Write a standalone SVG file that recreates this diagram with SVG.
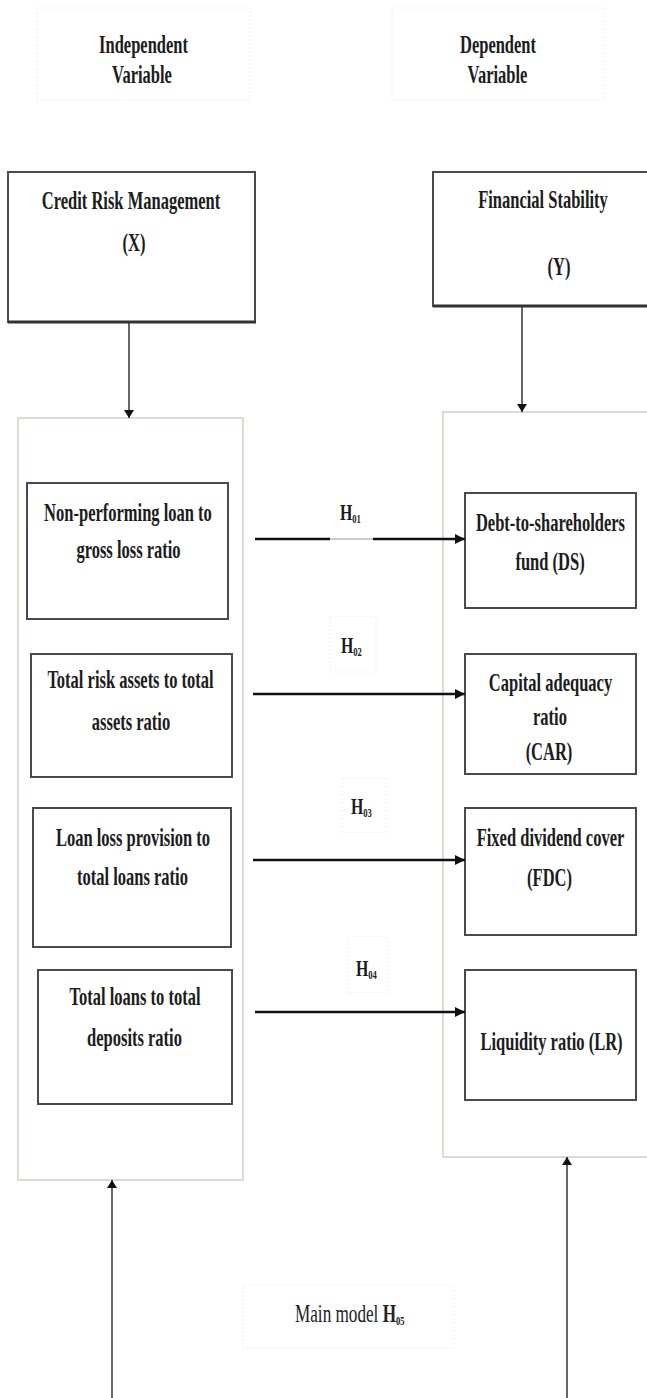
<svg xmlns="http://www.w3.org/2000/svg" width="647" height="1398" viewBox="0 0 647 1398">
<defs>
<style>
.t{font-family:"Liberation Serif","Times New Roman",serif;font-weight:bold;font-size:26px;fill:#1c1c1c;text-anchor:middle}
.hd{font-family:"Liberation Serif","Times New Roman",serif;font-weight:bold;font-size:25px;fill:#1c1c1c;text-anchor:middle}
.lab{font-family:"Liberation Serif","Times New Roman",serif;font-weight:bold;font-size:24px;fill:#1c1c1c}
.mm{font-family:"Liberation Serif","Times New Roman",serif;font-weight:normal;font-size:26px;fill:#222}
.sub{font-size:13px;font-weight:bold}
.box{fill:#fff;stroke:#4a4a4a;stroke-width:2}
.outer{fill:#fff;stroke:#cdd5bf;stroke-width:1.5}
.faint{fill:#fff;stroke:#eeeeee;stroke-width:1;stroke-dasharray:2 2}
.conn{stroke:#111;stroke-width:2.5;fill:none}
.thin{stroke:#333;stroke-width:1.5;fill:none}
</style>
<marker id="ah" markerUnits="userSpaceOnUse" markerWidth="10" markerHeight="10" refX="10" refY="5" orient="auto">
<path d="M0,0 L10,5 L0,10 z" fill="#111"/>
</marker>
<marker id="ahs" markerUnits="userSpaceOnUse" markerWidth="8" markerHeight="10" refX="8" refY="5" orient="auto">
<path d="M0,0 L8,5 L0,10 z" fill="#111"/>
</marker>
</defs>
<rect width="647" height="1398" fill="#fff"/>

<g id="header-independent">
<rect class="faint" x="37" y="8" width="213" height="92"/>
<text class="hd" transform="translate(143.5,53) scale(0.66,1)">Independent</text>
<text class="hd" transform="translate(142,83) scale(0.66,1)">Variable</text>
</g>
<g id="header-dependent">
<rect class="faint" x="392" y="8" width="212" height="92"/>
<text class="hd" transform="translate(498,53) scale(0.66,1)">Dependent</text>
<text class="hd" transform="translate(497.5,83) scale(0.66,1)">Variable</text>
</g>

<g id="outer-left">
<rect class="outer" x="18" y="418" width="225" height="762"/>
</g>
<g id="outer-right">
<rect class="outer" x="443" y="412" width="212" height="745"/>
</g>

<g id="node-x">
<rect class="box" x="8" y="172" width="247" height="150"/>
<line x1="8" y1="322" x2="256" y2="322" stroke="#333" stroke-width="3"/>
<text class="t" transform="translate(131,209) scale(0.635,1)">Credit Risk Management</text>
<text class="t" transform="translate(134,251) scale(0.635,1)">(X)</text>
</g>
<g id="node-y">
<rect class="box" x="433" y="172" width="220" height="134"/>
<line x1="433" y1="306" x2="647" y2="306" stroke="#333" stroke-width="3"/>
<text class="t" transform="translate(543,208) scale(0.635,1)">Financial Stability</text>
<text class="t" transform="translate(559,275) scale(0.635,1)">(Y)</text>
</g>

<g id="node-npl">
<rect class="box" x="27" y="483" width="201" height="136"/>
<text class="t" transform="translate(128,521) scale(0.635,1)">Non-performing loan to</text>
<text class="t" transform="translate(128.5,558) scale(0.635,1)">gross loss ratio</text>
</g>
<g id="node-tra">
<rect class="box" x="31" y="654" width="201" height="123"/>
<text class="t" transform="translate(130.5,688) scale(0.635,1)">Total risk assets to total</text>
<text class="t" transform="translate(131,730) scale(0.635,1)">assets ratio</text>
</g>
<g id="node-llp">
<rect class="box" x="33" y="808" width="198" height="139"/>
<text class="t" transform="translate(133,846) scale(0.635,1)">Loan loss provision to</text>
<text class="t" transform="translate(132.5,885) scale(0.635,1)">total loans ratio</text>
</g>
<g id="node-tld">
<rect class="box" x="38" y="970" width="194" height="134"/>
<text class="t" transform="translate(135,1005) scale(0.635,1)">Total loans to total</text>
<text class="t" transform="translate(134.5,1046) scale(0.635,1)">deposits ratio</text>
</g>

<g id="node-ds">
<rect class="box" x="465" y="493" width="171" height="115"/>
<text class="t" transform="translate(550.5,531) scale(0.635,1)">Debt-to-shareholders</text>
<text class="t" transform="translate(550,570) scale(0.635,1)">fund (DS)</text>
</g>
<g id="node-car">
<rect class="box" x="465" y="654" width="171" height="120"/>
<text class="t" transform="translate(550.5,691) scale(0.635,1)">Capital adequacy</text>
<text class="t" transform="translate(550,725) scale(0.635,1)">ratio</text>
<text class="t" transform="translate(549,760) scale(0.635,1)">(CAR)</text>
</g>
<g id="node-fdc">
<rect class="box" x="465" y="808" width="171" height="127"/>
<text class="t" transform="translate(550.5,846) scale(0.635,1)">Fixed dividend cover</text>
<text class="t" transform="translate(549.5,886) scale(0.635,1)">(FDC)</text>
</g>
<g id="node-lr">
<rect class="box" x="465" y="970" width="171" height="130"/>
<text class="t" transform="translate(551.5,1050) scale(0.635,1)">Liquidity ratio (LR)</text>
</g>

<g id="connectors">
<line class="thin" x1="129" y1="322" x2="129" y2="418" marker-end="url(#ahs)"/>
<line class="thin" x1="522" y1="306" x2="522" y2="412" marker-end="url(#ahs)"/>
<line class="conn" x1="255" y1="539" x2="330" y2="539"/>
<line x1="330" y1="539" x2="373" y2="539" stroke="#999" stroke-width="1"/>
<line class="conn" x1="373" y1="539" x2="465" y2="539" marker-end="url(#ah)"/>
<line class="conn" x1="253" y1="694" x2="465" y2="694" marker-end="url(#ah)"/>
<line class="conn" x1="253" y1="860" x2="465" y2="860" marker-end="url(#ah)"/>
<line class="conn" x1="255" y1="1012" x2="465" y2="1012" marker-end="url(#ah)"/>
<line class="thin" x1="112" y1="1398" x2="112" y2="1180" marker-end="url(#ahs)"/>
<line class="thin" x1="567" y1="1398" x2="567" y2="1157" marker-end="url(#ahs)"/>
</g>

<g id="label-h01">
<text class="lab" transform="translate(340,520) scale(0.66,1)">H<tspan class="sub" dy="3">01</tspan></text>
</g>
<g id="label-h02">
<rect class="faint" x="330" y="617" width="46" height="55"/>
<text class="lab" transform="translate(341,653) scale(0.66,1)">H<tspan class="sub" dy="3">02</tspan></text>
</g>
<g id="label-h03">
<rect class="faint" x="342" y="778" width="44" height="55"/>
<text class="lab" transform="translate(351,814) scale(0.66,1)">H<tspan class="sub" dy="3">03</tspan></text>
</g>
<g id="label-h04">
<rect class="faint" x="348" y="937" width="40" height="56"/>
<text class="lab" transform="translate(356,976) scale(0.66,1)">H<tspan class="sub" dy="3">04</tspan></text>
</g>
<g id="label-main">
<rect class="faint" x="243" y="1285" width="211" height="63"/>
<text class="mm" transform="translate(295,1322) scale(0.66,1)">Main model <tspan font-weight="bold">H</tspan><tspan class="sub" dy="3">05</tspan></text>
</g>
</svg>
